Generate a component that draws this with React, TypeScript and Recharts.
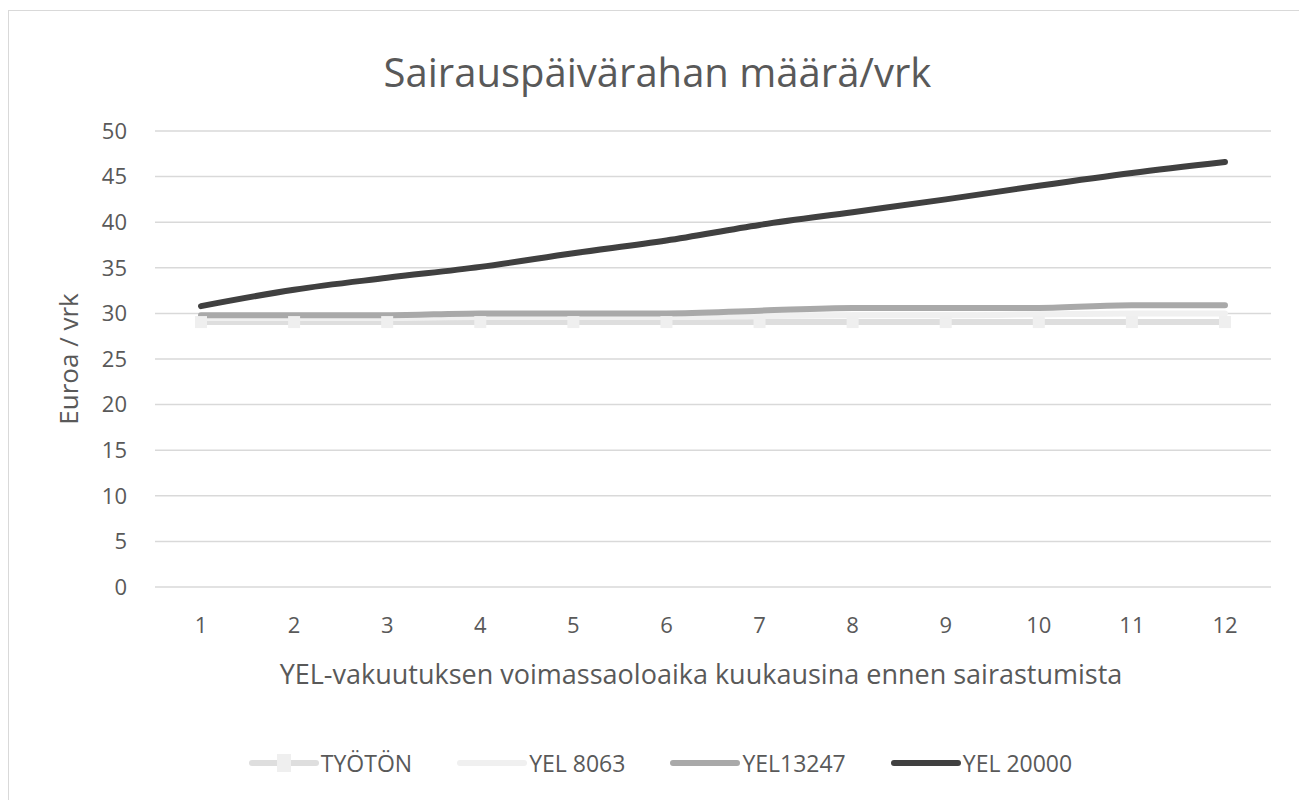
import { LineChart, Line, XAxis, YAxis, CartesianGrid, Legend } from "recharts";

const months = [1, 2, 3, 4, 5, 6, 7, 8, 9, 10, 11, 12];
const tyoton = [29.05, 29.05, 29.05, 29.05, 29.05, 29.05, 29.05, 29.05, 29.05, 29.05, 29.05, 29.05];
const yel8063 = [29.5, 29.5, 29.5, 29.6, 29.6, 29.6, 29.7, 29.8, 29.8, 29.9, 30.0, 30.0];
const yel13247 = [29.8, 29.8, 29.8, 30.0, 30.0, 30.0, 30.3, 30.6, 30.6, 30.6, 30.9, 30.9];
const yel20000 = [30.8, 32.6, 33.9, 35.1, 36.6, 38.0, 39.7, 41.1, 42.5, 44.0, 45.4, 46.6];
const yTicks = [0, 5, 10, 15, 20, 25, 30, 35, 40, 45, 50];

const data = months.map((m, i) => ({
  month: m,
  tyoton: tyoton[i],
  yel8063: yel8063[i],
  yel13247: yel13247[i],
  yel20000: yel20000[i],
}));

const FONT = "'Open Sans', 'Noto Sans', sans-serif";
const TEXT = "#595959";

const SERIES = [
  { key: "tyoton", name: "TYÖTÖN", color: "#dedede", marker: true },
  { key: "yel8063", name: "YEL 8063", color: "#f0f0f0", marker: false },
  { key: "yel13247", name: "YEL13247", color: "#a9a9a9", marker: false },
  { key: "yel20000", name: "YEL 20000", color: "#404040", marker: false },
];

const SquareDot = (props: any) => {
  const { cx, cy } = props;
  if (cx == null || cy == null) return null;
  return <rect x={cx - 6} y={cy - 6} width={12} height={12} fill="#efefef" />;
};

function LegendContent() {
  return (
    <div style={{ display: "flex", justifyContent: "center", gap: 44, fontFamily: FONT, fontSize: 23, color: TEXT, paddingRight: 26 }}>
      {SERIES.map((s) => (
        <div key={s.key} style={{ display: "flex", alignItems: "center" }}>
          <svg width={72} height={24} style={{ marginRight: 1 }}>
            <line x1={4} y1={12} x2={68} y2={12} stroke={s.color} strokeWidth={6} strokeLinecap="round" />
            {s.marker && <rect x={29} y={3} width={14} height={18} fill="#efefef" />}
          </svg>
          <span>{s.name}</span>
        </div>
      ))}
    </div>
  );
}

export default function App() {
  return (
    <div style={{ position: "relative", top: 2, width: 1297, height: 790, border: "1px solid #d9d9d9", background: "#fff" }}>
      <div style={{ position: "absolute", top: 33, left: 0, width: "100%", textAlign: "center", fontFamily: FONT, fontSize: 40, color: TEXT }}>
        Sairauspäivärahan määrä/vrk
      </div>
      <LineChart width={1297} height={790} data={data} margin={{ top: 120, right: 35, left: 66, bottom: 11 }}>
        <CartesianGrid horizontal vertical={false} stroke="#d9d9d9" strokeWidth={1.5} />
        <XAxis
          dataKey="month"
          axisLine={false}
          tickLine={false}
          tickMargin={24}
          height={171}
          padding={{ left: 46, right: 46 }}
          tick={{ fontSize: 22, fill: TEXT, fontFamily: FONT }}
          label={{ value: "YEL-vakuutuksen voimassaoloaika kuukausina ennen sairastumista", position: "insideTop", offset: 78, dx: -12, fontSize: 27, fill: TEXT, fontFamily: FONT }}
        />
        <YAxis
          domain={[0, 50]}
          ticks={yTicks}
          axisLine={false}
          tickLine={false}
          tickMargin={22}
          width={80}
          tick={{ fontSize: 22, fill: TEXT, fontFamily: FONT }}
          label={{ value: "Euroa / vrk", angle: -90, position: "insideLeft", offset: -6, fontSize: 26, fill: TEXT, fontFamily: FONT, style: { textAnchor: "middle" } }}
        />
        <Legend verticalAlign="bottom" content={<LegendContent />} wrapperStyle={{ bottom: 22 }} />
        {SERIES.map((s) => (
          <Line
            key={s.key}
            type="monotone"
            dataKey={s.key}
            name={s.name}
            stroke={s.color}
            strokeWidth={6}
            strokeLinecap="round"
            dot={s.marker ? <SquareDot /> : false}
            activeDot={false}
            isAnimationActive={false}
          />
        ))}
      </LineChart>
    </div>
  );
}
